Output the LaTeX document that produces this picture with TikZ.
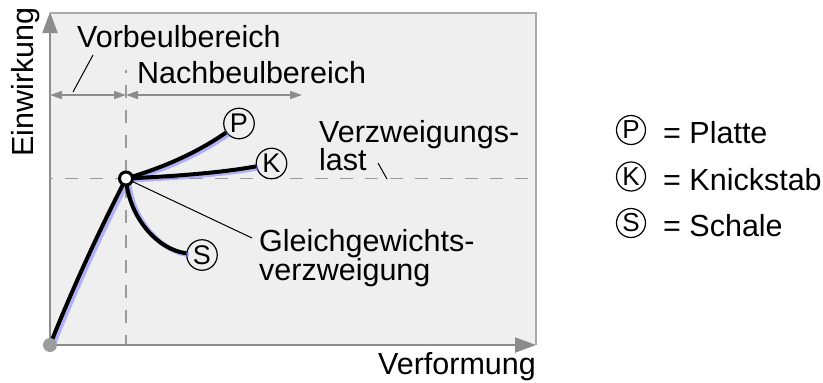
\documentclass[tikz,border=0pt]{standalone}
\usepackage{fontspec}
\setmainfont{Liberation Sans}
\usetikzlibrary{arrows.meta}
\definecolor{bgcol}{HTML}{EFEFEF}
\definecolor{bordercol}{HTML}{AAAAAA}
\definecolor{axiscol}{HTML}{8C8C8C}
\definecolor{dashcol}{HTML}{9A9A9A}
\definecolor{glowcol}{HTML}{7373FF}
\begin{document}
\begin{tikzpicture}[x=1pt,y=-1pt,
  lbl/.style={font=\fontsize{30.5}{34}\selectfont, inner sep=0pt, anchor=base west},
  circ/.style={circle, draw=black, line width=1.2pt, fill=bgcol, minimum size=30.5pt, inner sep=0pt, font=\fontsize{27}{27}\selectfont},
  legcirc/.style={circle, draw=black, line width=1.2pt, minimum size=29pt, inner sep=0pt, font=\fontsize{26}{26}\selectfont},
  curve/.style={draw=black, line width=4pt},
  glow/.style={draw=glowcol, line width=5pt, opacity=0.5},
  axis/.style={draw=axiscol, line width=2pt, -{Triangle[length=21pt,width=15pt]}},
  dim/.style={draw=axiscol, line width=1.5pt, {Triangle[length=12pt,width=8pt]}-{Triangle[length=12pt,width=8pt]}},
  guide/.style={draw=dashcol, line width=1.5pt, dash pattern=on 13pt off 12pt},
  leader/.style={draw=black, line width=1pt},
  bifnode/.style={circle, draw=black, fill=white, line width=3pt, minimum size=13pt, inner sep=0pt}]
\useasboundingbox (0,0) rectangle (823,383);
% background box
\fill[bgcol] (50,13) rectangle (536,345);
\draw[bordercol, line width=1.5pt] (50,13) -- (536,13) -- (536,345);
% coordinates
\coordinate (O) at (50,345);
\coordinate (Ytop) at (50,12);
\coordinate (Xend) at (536,345);
\coordinate (B) at (126,178.5);
\coordinate (vtop) at (126,70);
\coordinate (vbot) at (126,345);
\coordinate (hl) at (50,178.5);
\coordinate (hr) at (536,178.5);
\coordinate (dimL) at (50,95);
\coordinate (dimM) at (126,95);
\coordinate (dimR) at (302,95);
% guides
\draw[guide, dash phase=10pt] (vtop) -- (vbot);
\draw[guide, dash phase=-15pt] (hl) -- (hr);
% axes
\draw[axis] (O) -- (Ytop);
\draw[axis] (O) -- (Xend);
% dimension arrows
\draw[dim] (dimL) -- (dimM);
\draw[dim] (dimM) -- (dimR);
% circle markers
\node[circ] (P) at (239,123.5) {P};
\node[circ] (K) at (271.5,163.5) {K};
\node[circ] (S) at (202,255) {S};
% glow
\begin{scope}[transform canvas={shift={(2.5pt,-1.5pt)}}]
\draw[glow] (O) .. controls (72.6,288.1) and (98,233) .. (B);
\draw[glow] (B) .. controls (162.5,167.9) and (196.8,152.9) .. (P);
\draw[glow] (B) .. controls (170,176.5) and (220,173) .. (K);
\draw[glow] (B) .. controls (129,218) and (158,250) .. (S);
\end{scope}
% curves
\draw[curve] (O) .. controls (72.6,288.1) and (98,233) .. (B);
\draw[curve] (B) .. controls (162.5,167.9) and (196.8,152.9) .. (P);
\draw[curve] (B) .. controls (170,176.5) and (220,173) .. (K);
\draw[curve] (B) .. controls (129,218) and (158,250) .. (S);
% leader lines
\coordinate (glend) at (252,238);
\draw[leader] (B) -- (glend);
\coordinate (vbA) at (93,55);
\coordinate (vbB) at (73,92);
\draw[leader] (vbA) -- (vbB);
\coordinate (vlA) at (378,163);
\coordinate (vlB) at (387,179);
\draw[leader] (vlA) -- (vlB);
% points
\node[circle, fill=axiscol!85, minimum size=14pt, inner sep=0pt] (Odot) at (O) {};
\node[bifnode] (Bring) at (B) {};
% labels
\node[lbl] (vorb) at (77,47) {Vorbeulbereich};
\node[lbl] (nachb) at (137,83) {Nachbeulbereich};
\node[lbl] (verz1) at (319,142) {Verzweigungs-};
\node[lbl] (verz2) at (319,170) {last};
\node[lbl] (gl1) at (259,251) {Gleichgewichts-};
\node[lbl] (gl2) at (259,280) {verzweigung};
\node[lbl, rotate=90] (ylab) at (34,157) {Einwirkung};
\node[lbl, anchor=base east] (xlab) at (536,374) {Verformung};
% legend
\node[legcirc] (LP) at (631,130) {P};
\node[legcirc] (LK) at (631,176.5) {K};
\node[legcirc] (LS) at (631,223) {S};
\node[lbl] (tP) at (663,143) {= Platte};
\node[lbl] (tK) at (663,190) {= Knickstab};
\node[lbl] (tS) at (663,236) {= Schale};
\end{tikzpicture}
\end{document}
